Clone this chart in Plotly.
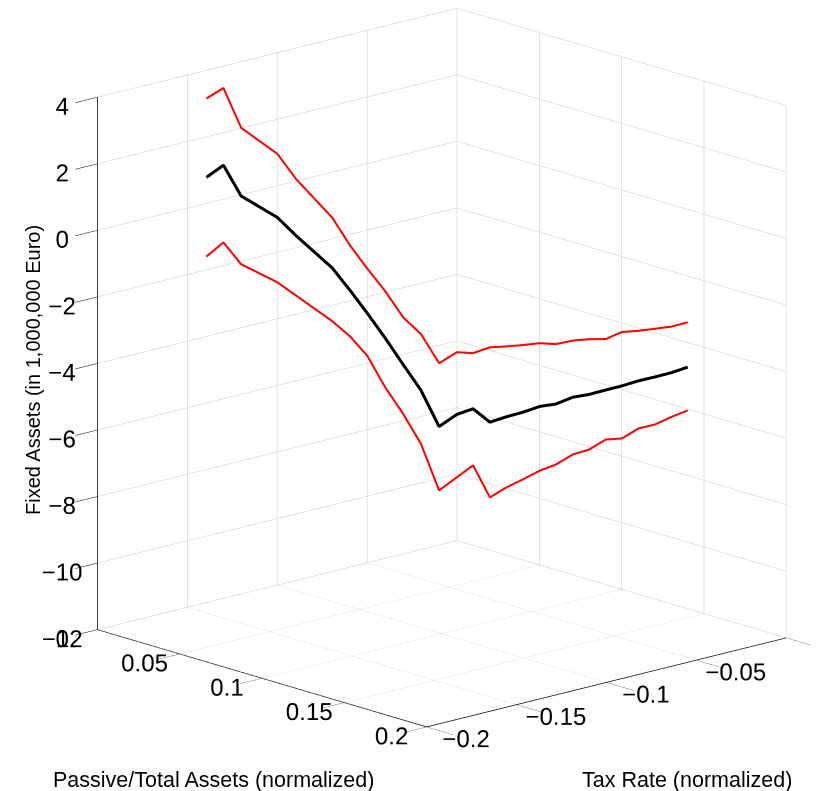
import plotly.graph_objects as go

# Data (path through the Passive/Tax plane)
passive = [0.0, 0.0071, 0.0145, 0.0295, 0.0373, 0.0523, 0.0598, 0.0668, 0.0743,
           0.0817, 0.0892, 0.0967, 0.1041, 0.1108, 0.1178, 0.1249, 0.1315, 0.1386,
           0.1452, 0.1523, 0.1589, 0.1660, 0.1726, 0.1797, 0.1863, 0.1934, 0.2]
tax = [-0.1394, -0.1364, -0.1333, -0.1269, -0.1236, -0.1173, -0.1141, -0.1111, -0.1080,
       -0.1048, -0.1017, -0.0985, -0.0954, -0.0925, -0.0896, -0.0866, -0.0838, -0.0808,
       -0.0780, -0.0750, -0.0722, -0.0692, -0.0664, -0.0634, -0.0606, -0.0576, -0.0548]
fixed_mean = [0.78, 1.21, 0.35, -0.16, -0.64, -1.47, -2.09, -2.70, -3.38, -4.11, -4.82,
              -5.84, -5.41, -5.18, -5.52, -5.29, -5.10, -4.86, -4.73, -4.46, -4.32,
              -4.12, -3.94, -3.72, -3.55, -3.35, -3.13]
fixed_upper = [3.15, 3.53, 2.40, 1.75, 1.06, 0.04, -0.74, -1.36, -1.97, -2.69, -3.13,
               -3.94, -3.54, -3.51, -3.27, -3.18, -3.08, -2.96, -2.93, -2.76, -2.66,
               -2.59, -2.32, -2.22, -2.10, -1.97, -1.78]
fixed_lower = [-1.60, -1.11, -1.70, -2.11, -2.44, -3.07, -3.47, -3.98, -4.86, -5.59, -6.43,
               -7.76, -7.30, -6.88, -7.78, -7.41, -7.12, -6.79, -6.55, -6.18, -5.98,
               -5.61, -5.52, -5.15, -4.98, -4.68, -4.43]

x_ticks = [0, 0.05, 0.1, 0.15, 0.2]
y_ticks = [-0.2, -0.15, -0.1, -0.05, 0]
NBSP = "\u00a0"
# last label padded so that it stays inside the page
y_tick_labels = ["\u22120.2", "\u22120.15", "\u22120.1", "\u22120.05", "0" + NBSP * 4]
z_ticks = [-12, -10, -8, -6, -4, -2, 0, 2, 4]

x_title = "Passive/Total Assets (normalized)"
y_title = "Tax Rate (normalized)"
z_title = "Fixed Assets (in 1,000,000 Euro)"

FONT = "Liberation Sans, Arial, Helvetica, sans-serif"
W, H = 818, 791

fig = go.Figure()
fig.add_trace(go.Scatter3d(x=passive, y=tax, z=fixed_upper, mode="lines",
                           line=dict(color="#ff0000", width=4), showlegend=False,
                           hoverinfo="skip"))
fig.add_trace(go.Scatter3d(x=passive, y=tax, z=fixed_lower, mode="lines",
                           line=dict(color="#ff0000", width=4), showlegend=False,
                           hoverinfo="skip"))
fig.add_trace(go.Scatter3d(x=passive, y=tax, z=fixed_mean, mode="lines",
                           line=dict(color="#000000", width=6), showlegend=False,
                           hoverinfo="skip"))

axis_common = dict(
    showgrid=True, gridcolor="#c8c8c8", gridwidth=1,
    showline=True, linecolor="black", linewidth=1.5,
    ticks="outside", tickcolor="black",
    showbackground=False, zeroline=False, showspikes=False,
    tickfont=dict(family=FONT, size=17, color="black"),
    tickangle=0,
    title=dict(text=""),
)

k = 1.233
d = 2.4
# look-at point shifted to pan the box into place; eye moved by the same amount
c = dict(x=-0.0243, y=-0.0629, z=-0.0875)
eye = dict(x=c["x"] + d * 0.710, y=c["y"] - d * 0.650, z=c["z"] + d * 0.2705)

fig.update_layout(
    width=W, height=H,
    margin=dict(l=0, r=0, t=0, b=0),
    paper_bgcolor="white",
    font=dict(family=FONT, size=19, color="black"),
    scene=dict(
        domain=dict(x=[0.0, 1.0], y=[0.0, 1.0]),
        xaxis=dict(range=[0, 0.2], tickvals=x_ticks, ticklen=40, **axis_common),
        yaxis=dict(range=[-0.2, 0], tickvals=y_ticks, ticktext=y_tick_labels,
                   ticklen=30, **axis_common),
        zaxis=dict(range=[-12, 4], tickvals=z_ticks, ticklen=8, **axis_common),
        aspectmode="manual",
        aspectratio=dict(x=k, y=k, z=1.134 * k),
        camera=dict(eye=eye, up=dict(x=0, y=0, z=1), center=c,
                    projection=dict(type="orthographic")),
        bgcolor="white",
    ),
    annotations=[
        dict(text=x_title, x=205.5 / W, y=1 - 772 / H, xref="paper", yref="paper",
             showarrow=False, font=dict(family=FONT, size=21.5), xanchor="center", yanchor="middle"),
        dict(text=y_title, x=679 / W, y=1 - 772 / H, xref="paper", yref="paper",
             showarrow=False, font=dict(family=FONT, size=21.5), xanchor="center", yanchor="middle"),
        dict(text=z_title, x=25 / W, y=1 - 362 / H, xref="paper", yref="paper",
             showarrow=False, font=dict(family=FONT, size=20), textangle=-90,
             xanchor="center", yanchor="middle"),
    ],
)

fig.write_html("out.html", config={"displayModeBar": False})
